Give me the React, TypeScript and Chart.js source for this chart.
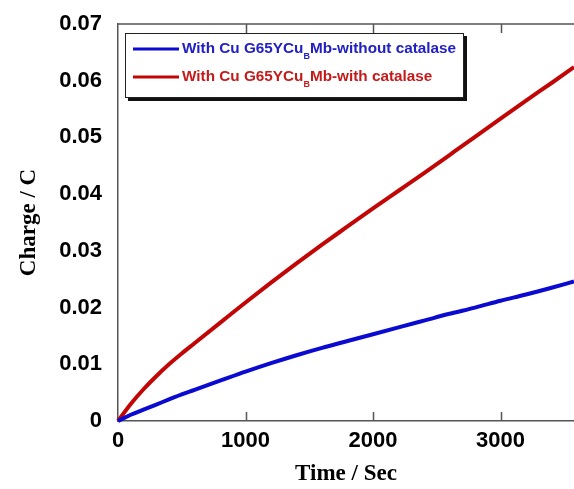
import { useEffect, useRef } from "react";
import { Chart, registerables } from "chart.js";

Chart.register(...registerables);

// Elapsed time (s) at which the charge was sampled
const TIME_S = [0, 100, 200, 300, 400, 500, 600, 800, 1000, 1200, 1400, 1600, 1800, 2000, 2200, 2400, 2600, 2800, 3000, 3200, 3400, 3576];

// Accumulated charge (C)
const CHARGE_WITHOUT_CATALASE = [0, 0.0011, 0.002, 0.0029, 0.0038, 0.0047, 0.0055, 0.0071, 0.0087, 0.0102, 0.0116, 0.0129, 0.0141, 0.0153, 0.0165, 0.0177, 0.0189, 0.02, 0.0212, 0.0223, 0.0235, 0.0246];
const CHARGE_WITH_CATALASE = [0, 0.003, 0.0056, 0.0079, 0.01, 0.0119, 0.0137, 0.0173, 0.0209, 0.0244, 0.0278, 0.0311, 0.0343, 0.0375, 0.0406, 0.0437, 0.0469, 0.0501, 0.0533, 0.0565, 0.0596, 0.0624];

const X_TICKS = [0, 1000, 2000, 3000];
const Y_TICKS = [0, 0.01, 0.02, 0.03, 0.04, 0.05, 0.06, 0.07];

// Legend text: [before subscript, subscript, after subscript]
const LEGEND_WITHOUT = ["With Cu G65YCu", "B", "Mb-without catalase"];
const LEGEND_WITH = ["With Cu G65YCu", "B", "Mb-with catalase"];

const BLUE = "#0a0ad0";
const RED = "#c20606";
const BLUE_TEXT = "#2020c4";
const RED_TEXT = "#c41a1a";
const AXIS = "#555555";
const SANS = "'Liberation Sans', Arial, sans-serif";
const SERIF = "'Liberation Serif', 'Times New Roman', serif";

// Top border plus inward tick marks on the top and bottom edges
const framePlugin = {
  id: "frame",
  afterDraw(chart: any) {
    const { ctx, chartArea, scales } = chart;
    const { left, right, top, bottom } = chartArea;
    const x = scales.x;
    ctx.save();
    ctx.strokeStyle = AXIS;
    ctx.lineWidth = 1.5;
    ctx.beginPath();
    ctx.moveTo(left, top);
    ctx.lineTo(right + 2, top);
    for (const v of X_TICKS) {
      if (v === 0) continue;
      const px = Math.round(x.getPixelForValue(v)) + 0.5;
      ctx.moveTo(px, top);
      ctx.lineTo(px, top + 9);
      ctx.moveTo(px, bottom);
      ctx.lineTo(px, bottom - 9);
    }
    ctx.stroke();
    ctx.restore();
  },
};

// Boxed legend with a drop shadow and subscripted label text
const legendPlugin = {
  id: "subscriptLegend",
  afterDraw(chart: any) {
    const { ctx, chartArea } = chart;
    const bx = chartArea.left + 7;
    const by = chartArea.top + 9;
    const bw = 339;
    const bh = 65;
    ctx.save();
    ctx.fillStyle = "#111111";
    ctx.fillRect(bx + 3, by + 3, bw, bh);
    ctx.fillStyle = "#ffffff";
    ctx.fillRect(bx, by, bw, bh);
    ctx.strokeStyle = "#222222";
    ctx.lineWidth = 1;
    ctx.strokeRect(bx + 0.5, by + 0.5, bw - 1, bh - 1);

    const rows = [
      { parts: LEGEND_WITHOUT, line: chart.data.datasets[0].borderColor, text: BLUE_TEXT, y: by + 16 },
      { parts: LEGEND_WITH, line: chart.data.datasets[1].borderColor, text: RED_TEXT, y: by + 44 },
    ];
    for (const r of rows) {
      ctx.strokeStyle = r.line;
      ctx.lineWidth = 3;
      ctx.beginPath();
      ctx.moveTo(bx + 8, r.y);
      ctx.lineTo(bx + 54, r.y);
      ctx.stroke();

      ctx.fillStyle = r.text;
      ctx.textBaseline = "middle";
      ctx.textAlign = "left";
      let tx = bx + 57;
      ctx.font = `bold 15.3px ${SANS}`;
      ctx.fillText(r.parts[0], tx, r.y);
      tx += ctx.measureText(r.parts[0]).width;
      ctx.font = `bold 9px ${SANS}`;
      ctx.fillText(r.parts[1], tx, r.y + 8);
      tx += ctx.measureText(r.parts[1]).width;
      ctx.font = `bold 15.3px ${SANS}`;
      ctx.fillText(r.parts[2], tx, r.y);
    }
    ctx.restore();
  },
};

export default function App() {
  const canvasRef = useRef<HTMLCanvasElement | null>(null);

  useEffect(() => {
    document.body.style.margin = "0";
    const canvas = canvasRef.current;
    if (!canvas) return;
    const toPoints = (ys: number[]) => TIME_S.map((t, i) => ({ x: t, y: ys[i] }));

    const chart = new Chart(canvas, {
      type: "line",
      data: {
        datasets: [
          {
            label: LEGEND_WITHOUT.join(""),
            data: toPoints(CHARGE_WITHOUT_CATALASE),
            borderColor: BLUE,
            borderWidth: 4,
            pointRadius: 0,
            cubicInterpolationMode: "monotone",
            clip: false,
          },
          {
            label: LEGEND_WITH.join(""),
            data: toPoints(CHARGE_WITH_CATALASE),
            borderColor: RED,
            borderWidth: 4,
            pointRadius: 0,
            cubicInterpolationMode: "monotone",
            clip: false,
          },
        ],
      },
      options: {
        responsive: false,
        animation: false,
        layout: { padding: { top: 24, right: 0, left: 0, bottom: 0 } },
        plugins: {
          legend: { display: false },
          tooltip: { enabled: false },
        },
        scales: {
          x: {
            type: "linear",
            min: 0,
            max: 3576,
            grid: { display: false, drawTicks: false },
            border: { display: true, color: AXIS, width: 1.5 },
            afterBuildTicks: (s: any) => {
              s.ticks = X_TICKS.map((v) => ({ value: v }));
            },
            afterFit: (s: any) => {
              s.height = 68;
              s.paddingLeft = 0;
              s.paddingRight = 0;
            },
            ticks: {
              color: "#000",
              padding: 7,
              maxRotation: 0,
              autoSkip: false,
              font: { family: SANS, size: 22, weight: "bold" },
              callback: (v: any) => String(v),
            },
            title: {
              display: true,
              text: "Time / Sec",
              color: "#000",
              padding: { top: 0, bottom: 1 },
              font: { family: SERIF, size: 23, weight: "bold" },
            },
          },
          y: {
            type: "linear",
            min: 0,
            max: 0.07,
            grid: { display: false, drawTicks: false },
            border: { display: true, color: AXIS, width: 1.5 },
            afterBuildTicks: (s: any) => {
              s.ticks = Y_TICKS.map((v) => ({ value: v }));
            },
            afterFit: (s: any) => {
              s.width = 118;
              s.paddingTop = 0;
              s.paddingBottom = 0;
            },
            ticks: {
              color: "#000",
              padding: 16,
              autoSkip: false,
              font: { family: SANS, size: 22, weight: "bold" },
              callback: (v: any) => (Number(v) === 0 ? "0" : Number(v).toFixed(2)),
            },
            title: {
              display: true,
              text: "Charge / C",
              color: "#000",
              padding: { top: 15, bottom: 0 },
              font: { family: SERIF, size: 23, weight: "bold" },
            },
          },
        },
      },
      plugins: [framePlugin, legendPlugin],
    } as any);

    return () => chart.destroy();
  }, []);

  return <canvas ref={canvasRef} width={574} height={489} style={{ display: "block" }} />;
}
